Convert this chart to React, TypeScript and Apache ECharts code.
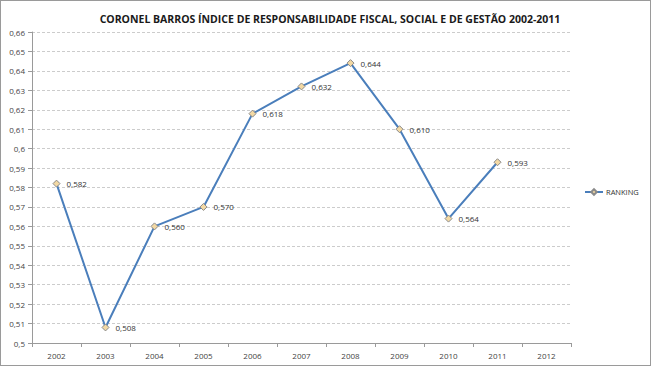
import React, { useEffect, useRef } from "react";
import * as echarts from "echarts";

const years = ["2002", "2003", "2004", "2005", "2006", "2007", "2008", "2009", "2010", "2011", "2012"];
const ranking = [0.582, 0.508, 0.56, 0.57, 0.618, 0.632, 0.644, 0.61, 0.564, 0.593, null];
const seriesName = "RANKING";
const titleText = "CORONEL BARROS ÍNDICE DE RESPONSABILIDADE FISCAL, SOCIAL E DE GESTÃO 2002-2011";

export default function App() {
  const ref = useRef<HTMLDivElement>(null);
  useEffect(() => {
    document.body.style.margin = "0";
    const chart = echarts.init(ref.current!, null, { renderer: "svg" });
    chart.setOption({
      animation: false,
      backgroundColor: "#ffffff",
      textStyle: { fontFamily: "Open Sans" },
      title: {
        text: titleText,
        left: 324,
        textAlign: "center",
        top: 7,
        textStyle: { fontSize: 10.5, fontWeight: "bold", color: "#1a1a1a", fontFamily: "Open Sans" },
      },
      legend: {
        orient: "vertical",
        left: 578,
        top: 182,
        itemWidth: 18,
        itemHeight: 7,
        itemGap: 4,
        textStyle: { fontSize: 7.5, color: "#333", padding: [0, 0, 0, -2] },
        data: [seriesName],
      },
      grid: { left: 31, right: 79, top: 31, bottom: 22, containLabel: false },
      xAxis: {
        type: "category",
        data: years,
        boundaryGap: true,
        axisLine: { lineStyle: { color: "#9a9a9a" } },
        axisTick: { show: true, length: 4, lineStyle: { color: "#9a9a9a" } },
        axisLabel: { fontSize: 8, color: "#444", margin: 8 },
      },
      yAxis: {
        type: "value",
        min: 0.5,
        max: 0.66,
        interval: 0.01,
        axisLine: { show: true, lineStyle: { color: "#9a9a9a" } },
        axisTick: { show: true, length: 4, lineStyle: { color: "#9a9a9a" } },
        splitLine: { lineStyle: { color: "#cccccc", type: [3, 2] } },
        axisLabel: {
          fontSize: 8,
          color: "#444",
          margin: 7,
          formatter: (v: number) => String(Math.round(v * 100) / 100).replace(".", ","),
        },
      },
      series: [
        {
          name: seriesName,
          type: "line",
          data: ranking,
          symbol: "diamond",
          symbolSize: 7,
          lineStyle: { color: "#4a7ebb", width: 2 },
          itemStyle: { color: "#f3d9a4", borderColor: "#8a8a8a", borderWidth: 1 },
          label: {
            show: true,
            position: "right",
            distance: 6,
            fontSize: 8,
            color: "#333",
            formatter: (p: any) => (p.value == null ? "" : Number(p.value).toFixed(3).replace(".", ",")),
          },
        },
      ],
    });
    return () => chart.dispose();
  }, []);
  return (
    <div
      ref={ref}
      style={{ width: 651, height: 366, boxSizing: "border-box", border: "1px solid #9a9a9a" }}
    />
  );
}
